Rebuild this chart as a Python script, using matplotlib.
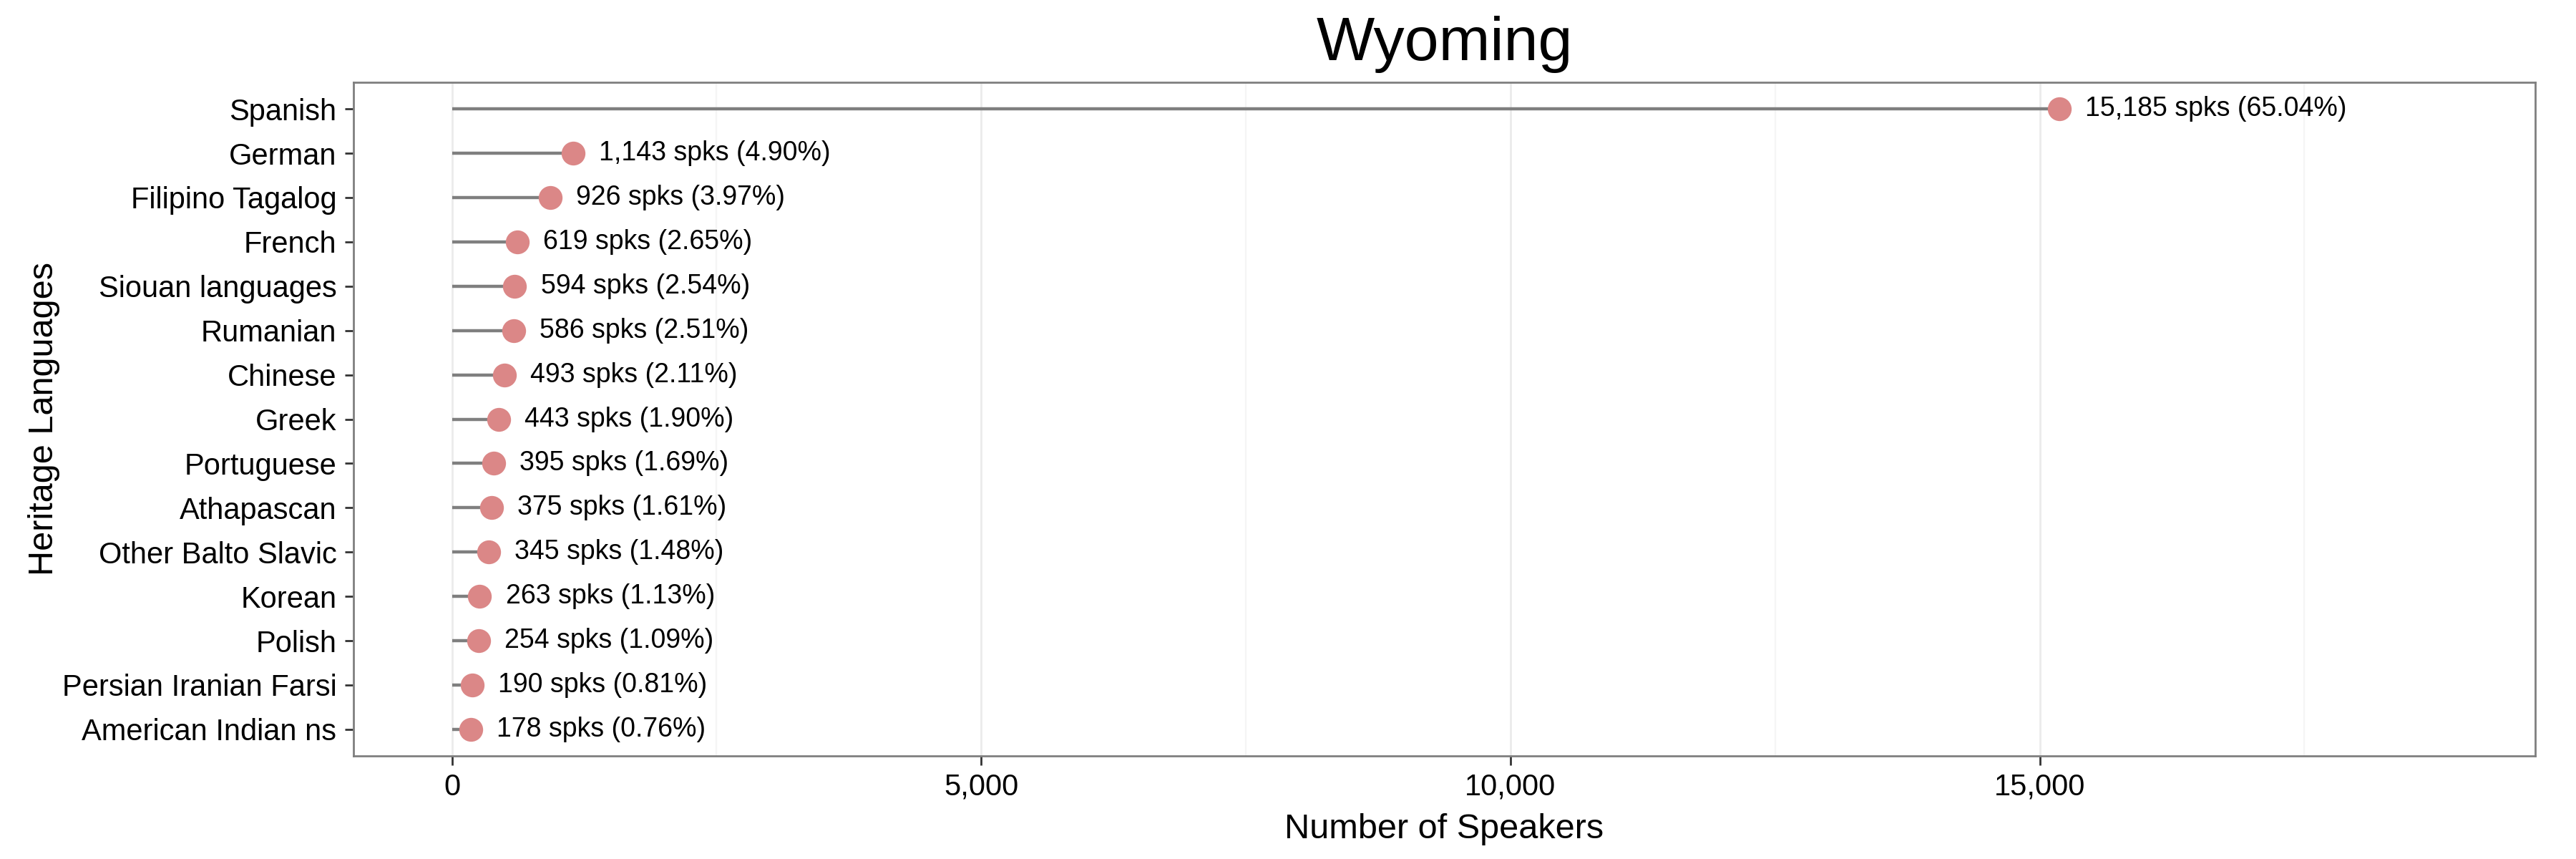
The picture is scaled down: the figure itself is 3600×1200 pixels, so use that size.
import matplotlib
matplotlib.use("Agg")
import matplotlib.pyplot as plt
from matplotlib.ticker import FuncFormatter, MultipleLocator

languages = ["Spanish", "German", "Filipino Tagalog", "French", "Siouan languages",
             "Rumanian", "Chinese", "Greek", "Portuguese", "Athapascan",
             "Other Balto Slavic", "Korean", "Polish", "Persian Iranian Farsi",
             "American Indian ns"]
speakers = [15185, 1143, 926, 619, 594, 586, 493, 443, 395, 375, 345, 263, 254, 190, 178]
percents = [65.04, 4.90, 3.97, 2.65, 2.54, 2.51, 2.11, 1.90, 1.69, 1.61, 1.48, 1.13, 1.09, 0.81, 0.76]
title = "Wyoming"

plt.rcParams['font.family'] = ['Liberation Sans', 'DejaVu Sans']

fig = plt.figure(figsize=(18, 6), dpi=200)
ax = fig.add_axes([494/3600, 1-1056/1200, (3543-494)/3600, (1056-115)/1200])

ypos = list(range(len(languages)))
ax.hlines(ypos, 0, speakers, color="#7f7f7f", linewidth=1.6, zorder=2)
ax.plot(speakers, ypos, 'o', color="#DB8787", markersize=12, markeredgewidth=0, zorder=3)
for v, p, y in zip(speakers, percents, ypos):
    ax.annotate(f"{v:,} spks ({p:.2f}%)", xy=(v, y), xytext=(13, 0),
                textcoords="offset points", va="center", ha="left", fontsize=13.5)

ax.set_xlim(-930, 19680)
ax.set_ylim(len(languages) - 0.4, -0.6)
ax.set_yticks(ypos)
ax.set_yticklabels(languages)
ax.xaxis.set_major_locator(MultipleLocator(5000))
ax.xaxis.set_minor_locator(MultipleLocator(2500))
ax.xaxis.set_major_formatter(FuncFormatter(lambda x, _: f"{int(x):,}"))
ax.grid(axis='x', which='major', color="#ebebeb", linewidth=1.0, zorder=0)
ax.grid(axis='x', which='minor', color="#f5f5f5", linewidth=0.8, zorder=0)
ax.set_axisbelow(True)
ax.tick_params(axis='both', which='major', length=4.5, width=1.0, color="#333333",
               labelsize=15, pad=4, labelcolor="black")
ax.tick_params(axis='x', which='minor', length=0)
for s in ax.spines.values():
    s.set_color("#7f7f7f")
    s.set_linewidth(1.0)

ax.set_title(title, fontsize=31, pad=11)
ax.set_xlabel("Number of Speakers", fontsize=17.5, labelpad=6)
ax.set_ylabel("Heritage Languages", fontsize=17.5, labelpad=1)

fig.savefig("out.png", dpi=200)
